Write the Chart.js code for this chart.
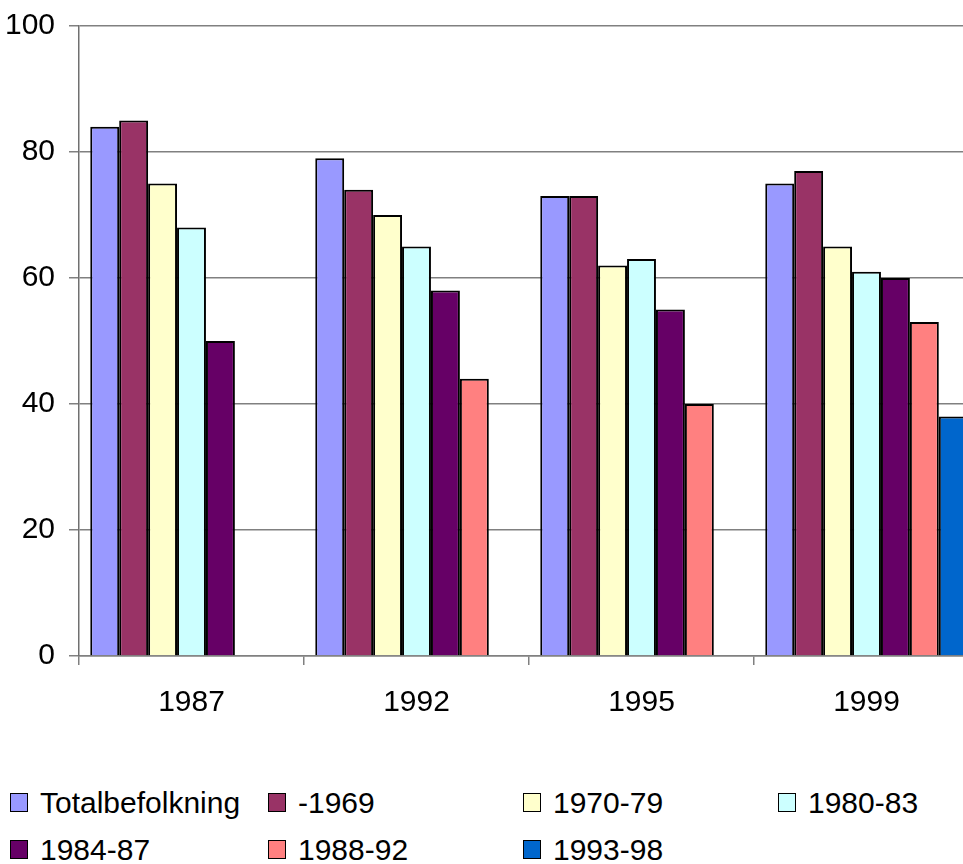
<!DOCTYPE html>
<html>
<head>
<meta charset="utf-8">
<script src="https://cdn.jsdelivr.net/npm/chart.js@4"></script>
<style>
  html, body { margin: 0; padding: 0; background: #fff; }
  body { width: 963px; height: 864px; overflow: hidden; position: relative; font-family: "Liberation Sans", Arial, sans-serif; }
  #wrap { position: absolute; left: 0; top: -6px; width: 990px; height: 747px; }
  #legend { position: absolute; left: 10px; top: 779px; display: grid;
            grid-template-columns: 258px 255px 255px 255px; grid-auto-rows: 47px; }
  .item { display: flex; align-items: center; font-size: 30px; color: #000; white-space: nowrap; }
  .box { width: 16px; height: 17px; border: 1.5px solid #000; margin-right: 12px; flex: none; }
</style>
</head>
<body>
<div id="wrap"><canvas id="chart" width="990" height="747"></canvas></div>
<div id="legend"></div>
<script>
// Datos del gráfico
const categorias = ['1987', '1992', '1995', '1999'];
const series = ['Totalbefolkning', '-1969', '1970-79', '1980-83', '1984-87', '1988-92', '1993-98'];
const colores = ['#9999FF', '#993366', '#FFFFCC', '#CCFFFF', '#660066', '#FF8080', '#0066CC'];

// valores por serie (uno por año)
const totalbefolkning = [84, 79, 73, 75];
const v1969 = [85, 74, 73, 77];
const v1970_79 = [75, 70, 62, 65];
const v1980_83 = [68, 65, 63, 61];
const v1984_87 = [50, 58, 55, 60];
const v1988_92 = [null, 44, 40, 53];
const v1993_98 = [null, null, null, 38];
const valores = [totalbefolkning, v1969, v1970_79, v1980_83, v1984_87, v1988_92, v1993_98];

const yTicks = [0, 20, 40, 60, 80, 100];

const fuente = { family: '"Liberation Sans", Arial, sans-serif', size: 30 };

new Chart(document.getElementById('chart'), {
    type: 'bar',
    data: {
        labels: categorias,
        datasets: series.map((nombre, i) => ({
            label: nombre,
            data: valores[i],
            backgroundColor: colores[i],
            borderColor: '#000',
            borderWidth: 2,
            categoryPercentage: 0.9,
            barPercentage: 1
        }))
    },
    options: {
        responsive: false,
        animation: false,
        layout: { padding: { left: 0, right: 11, top: 3, bottom: 0 } },
        plugins: { legend: { display: false }, tooltip: { enabled: false } },
        scales: {
            x: {
                offset: true,
                grid: { offset: true, drawOnChartArea: false, color: '#808080', tickLength: 9, lineWidth: 1.5 },
                border: { color: '#808080', width: 1.5 },
                ticks: { color: '#000', font: fuente, padding: 20 }
            },
            y: {
                min: 0, max: 100,
                afterBuildTicks: s => { s.ticks = yTicks.map(v => ({ value: v })); },
                afterFit: s => { s.width = 79; },
                grid: { color: '#808080', tickLength: 10, lineWidth: 1.5 },
                border: { color: '#707070', width: 1.5 },
                ticks: { color: '#000', font: fuente, padding: 14 }
            }
        }
    }
});

// Leyenda en HTML (cuadrícula de 4 columnas)
const leyenda = document.getElementById('legend');
series.forEach((nombre, i) => {
    const item = document.createElement('div');
    item.className = 'item';
    item.innerHTML = '<span class="box" style="background:' + colores[i] + '"></span>' + nombre;
    leyenda.appendChild(item);
});
</script>
</body>
</html>
